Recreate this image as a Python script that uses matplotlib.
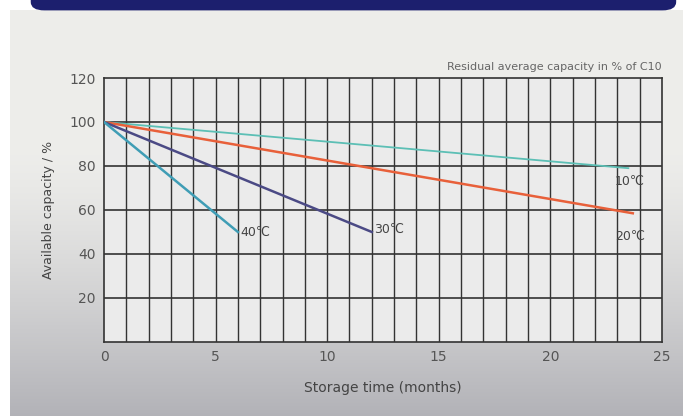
import numpy as np
import matplotlib
matplotlib.use("Agg")
import matplotlib.pyplot as plt
from matplotlib.patches import FancyBboxPatch

# data
months_40 = [0, 6]
cap_40 = [100, 50]
months_30 = [0, 12]
cap_30 = [100, 50]
months_20 = [0, 23.7]
cap_20 = [100, 58.5]
months_10 = [0, 23.5]
cap_10 = [100, 79]

x_ticks = [0, 5, 10, 15, 20, 25]
y_ticks = [20, 40, 60, 80, 100, 120]

fig = plt.figure(figsize=(6.83, 4.16), dpi=100)
fig.patch.set_facecolor("white")

# gray gradient background
bg = fig.add_axes([0.015, 0, 0.985, 0.975], zorder=-10)
grad = np.linspace(0, 1, 200).reshape(-1, 1)
top = np.array([0.93, 0.93, 0.92])
bot = np.array([0.70, 0.70, 0.72])
w = np.clip((grad - 0.35) / 0.65, 0, 1) ** 1.3
img = top * (1 - w) + bot * w
bg.imshow(img.reshape(200, 1, 3), aspect="auto", extent=[0, 1, 0, 1], origin="upper")
bg.axis("off")

# dark header band
band = FancyBboxPatch((0.045, 0.975), 0.945, 0.06, boxstyle="round,pad=0,rounding_size=0.02",
                      transform=fig.transFigure, facecolor="#1c1f6e", edgecolor="none")
fig.patches.append(band)

ax = fig.add_axes([0.1523, 0.178, 0.8167, 0.6345])
ax.set_facecolor("#ebebeb")
ax.set_xlim(0, 25)
ax.set_ylim(0, 120)

# grid: every month vertical, every 20 horizontal
for m in range(1, 25):
    ax.axvline(m, color="#333333", lw=1.0, zorder=1)
for v in y_ticks[:-1]:
    ax.axhline(v, color="#333333", lw=1.2, zorder=1)

ax.plot(months_10, cap_10, color="#5cbfb5", lw=1.3, zorder=3)
ax.plot(months_20, cap_20, color="#e8603a", lw=1.8, zorder=3)
ax.plot(months_30, cap_30, color="#4b4a85", lw=1.8, zorder=3)
ax.plot(months_40, cap_40, color="#3f9db5", lw=1.8, zorder=3)

lab = dict(fontsize=9, color="#444444", zorder=4)
ax.text(months_40[-1] + 0.1, cap_40[-1], "40℃", ha="left", va="center", **lab)
ax.text(months_30[-1] + 0.1, cap_30[-1] + 1, "30℃", ha="left", va="center", **lab)
ax.text(22.9, 48, "20℃", ha="left", va="center", **lab)
ax.text(22.9, 73, "10℃", ha="left", va="center", **lab)

for s in ax.spines.values():
    s.set_color("#333333")
    s.set_linewidth(1.2)

ax.set_xticks(x_ticks)
ax.set_yticks(y_ticks)
ax.tick_params(length=0, labelsize=10, labelcolor="#555555", pad=6)
ax.set_xlabel("Storage time (months)", fontsize=10, color="#444444", labelpad=12)
ax.set_ylabel("Available capacity / %", fontsize=9, color="#444444", labelpad=10)
ax.set_title("Residual average capacity in % of C10", loc="right", fontsize=8,
             color="#666666", pad=6)

fig.savefig("out.png", dpi=100)
